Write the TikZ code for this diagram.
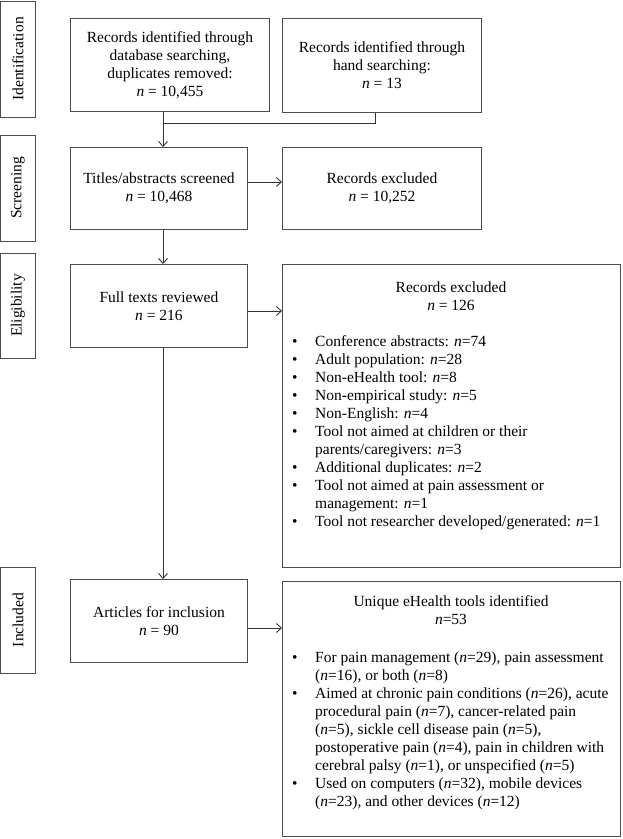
\documentclass[tikz,border=0pt]{standalone}
\usepackage{fontspec}
\setmainfont{Liberation Serif}
\usetikzlibrary{arrows.meta}
\tikzset{
  fnt/.style={font=\fontsize{15.5}{18}\selectfont},
  box/.style={draw=black!70, line width=0.9pt, inner sep=0pt, anchor=north west, align=center, fnt},
  phase/.style={draw=black!70, line width=0.9pt, inner sep=0pt, rotate=90, minimum height=35, fnt},
  txt/.style={inner sep=0pt, fnt},
  conn/.style={draw=black!80, line width=0.9pt},
  arr/.style={conn, -{Straight Barb[length=5pt,width=9pt]}},
}
\newcommand{\bl}{\hspace*{4pt}\textbullet}
\begin{document}
\begin{tikzpicture}[x=1pt,y=-1pt]
\useasboundingbox (0,0) rectangle (622,839);
% phase labels
\node[phase, minimum width=116] (pid) at (18,59) {Identification};
\node[phase, minimum width=106] (psc) at (18,188) {Screening};
\node[phase, minimum width=105] (pel) at (18,305.5) {Eligibility};
\node[phase, minimum width=106] (pin) at (18,620) {Included};
% boxes
\node[box, minimum width=199, minimum height=93] (b1) at (70,18)
  {Records identified through\\database searching,\\duplicates removed:\\\textit{n} = 10,455};
\node[box, minimum width=199, minimum height=94] (b2) at (282,18)
  {Records identified through\\hand searching:\\\textit{n} = 13};
\node[box, minimum width=177, minimum height=82] (b3) at (70,147)
  {Titles/abstracts screened\\\textit{n} = 10,468};
\node[box, minimum width=199, minimum height=82] (b4) at (282,147)
  {Records excluded\\\textit{n} = 10,252};
\node[box, minimum width=177, minimum height=83] (b5) at (70,264)
  {Full texts reviewed\\\textit{n} = 216};
\node[box, minimum width=338, minimum height=303] (b6) at (282,264) {};
\node[box, minimum width=177, minimum height=83] (b7) at (70,579)
  {Articles for inclusion\\\textit{n} = 90};
\node[box, minimum width=338, minimum height=255] (b8) at (282,581) {};
% box contents
\node[txt, align=center] (b6h) at (451,296) {Records excluded\\\textit{n} = 126};
\node[txt, anchor=north west] (b6l) at (288,333.5) {%
\begin{tabular}{@{}p{27pt}@{}l@{}}
\bl & Conference abstracts: \textit{n}=74\\
\bl & Adult population: \textit{n}=28\\
\bl & Non-eHealth tool: \textit{n}=8\\
\bl & Non-empirical study: \textit{n}=5\\
\bl & Non-English: \textit{n}=4\\
\bl & Tool not aimed at children or their\\
    & parents/caregivers: \textit{n}=3\\
\bl & Additional duplicates: \textit{n}=2\\
\bl & Tool not aimed at pain assessment or\\
    & management: \textit{n}=1\\
\bl & Tool not researcher developed/generated: \textit{n}=1
\end{tabular}};
\node[txt, align=center] (b8h) at (451,610) {Unique eHealth tools identified\\\textit{n}=53};
\node[txt, anchor=north west] (b8l) at (288,649.5) {%
\begin{tabular}{@{}p{27pt}@{}l@{}}
\bl & For pain management (\textit{n}=29), pain assessment\\
    & (\textit{n}=16), or both (\textit{n}=8)\\
\bl & Aimed at chronic pain conditions (\textit{n}=26), acute\\
    & procedural pain (\textit{n}=7), cancer-related pain\\
    & (\textit{n}=5), sickle cell disease pain (\textit{n}=5),\\
    & postoperative pain (\textit{n}=4), pain in children with\\
    & cerebral palsy (\textit{n}=1), or unspecified (\textit{n}=5)\\
\bl & Used on computers (\textit{n}=32), mobile devices\\
    & (\textit{n}=23), and other devices (\textit{n}=12)
\end{tabular}};
% connectors
\coordinate (j) at (163,123);
\coordinate (j2) at (375,123);
\draw[conn] (j |- b1.south) -- (j);
\draw[conn] (j2 |- b2.south) -- (j2) -- (j);
\draw[arr] (j) -- (j |- b3.north);
\draw[arr] (j |- b3.south) -- (j |- b5.north);
\draw[arr] (j |- b5.south) -- (j |- b7.north);
\draw[arr] (b3.east |- 0,182) -- (b4.west |- 0,182);
\draw[arr] (b5.east |- 0,311) -- (b6.west |- 0,311);
\draw[arr] (b7.east |- 0,628) -- (b8.west |- 0,628);
\end{tikzpicture}
\end{document}
